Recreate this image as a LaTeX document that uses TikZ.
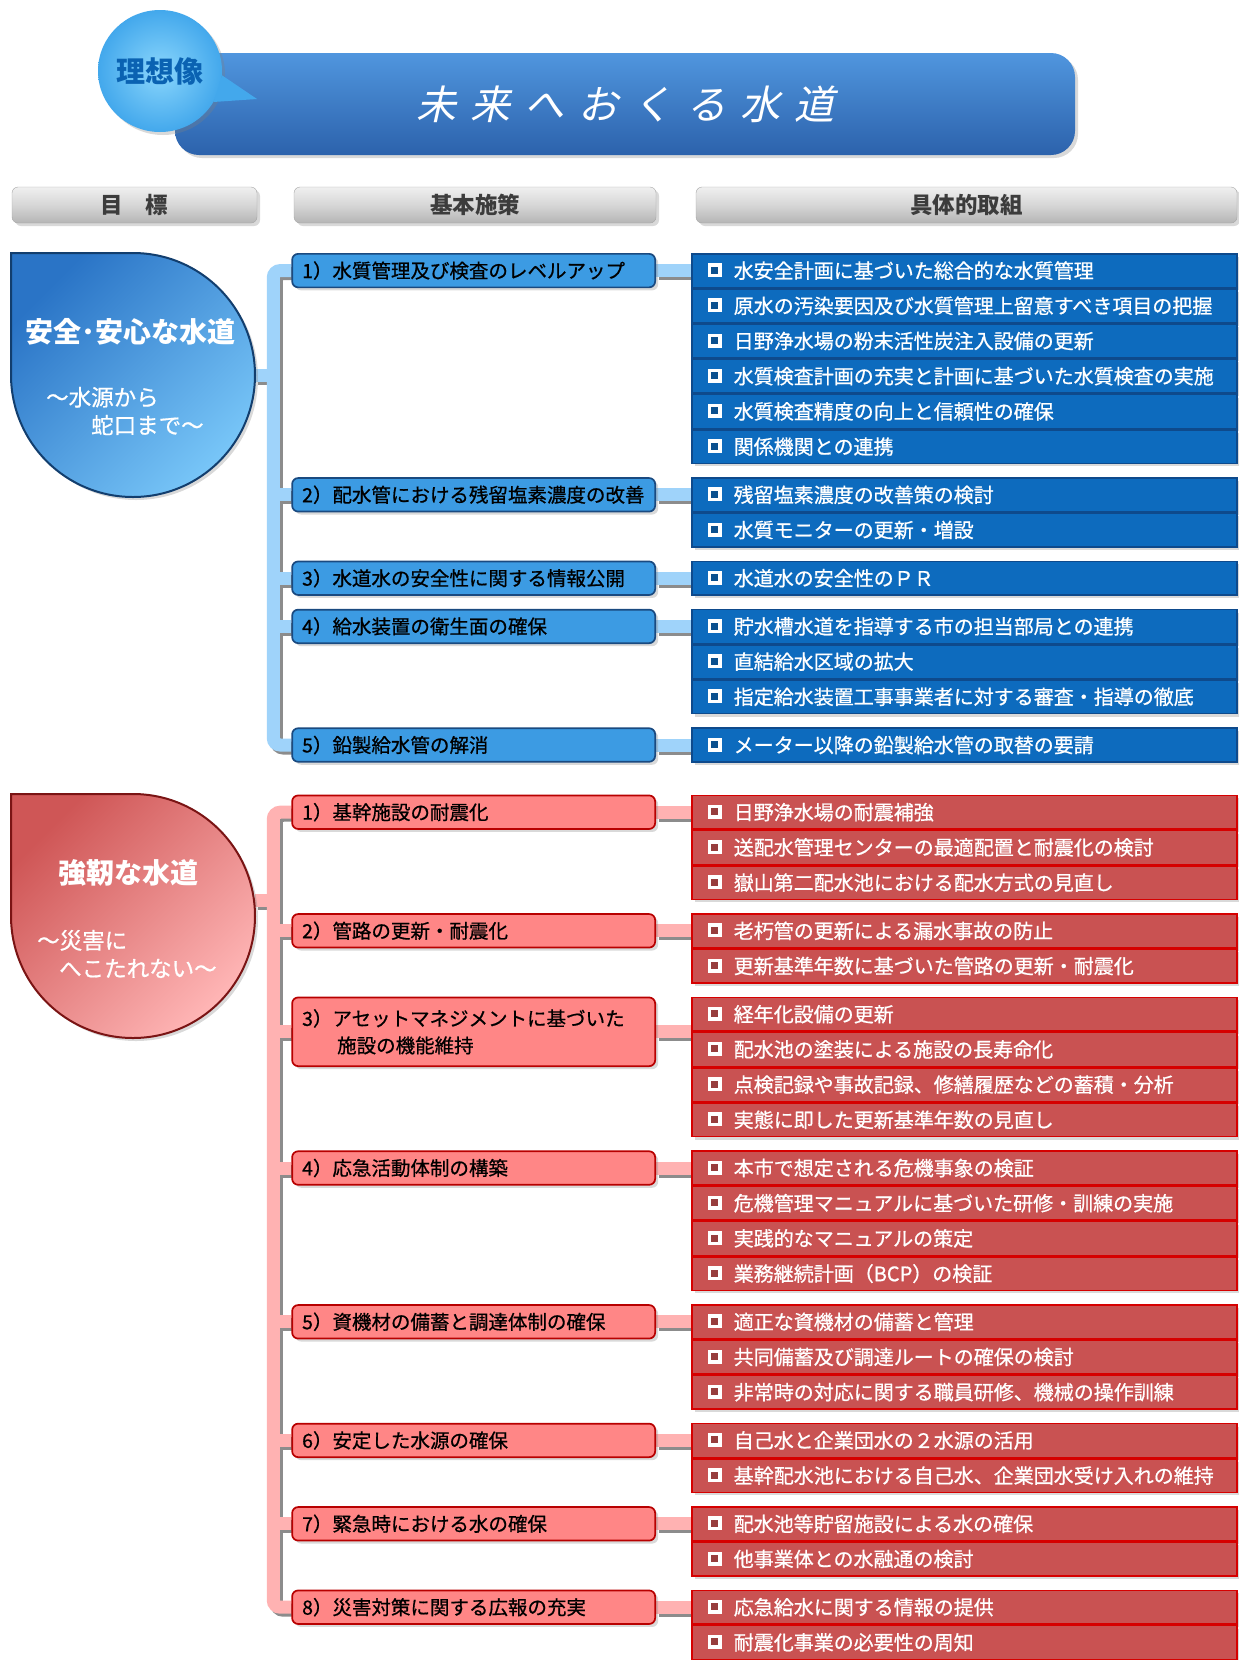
\documentclass[tikz,border=0pt]{standalone}
\usepackage{fontspec}
\setmainfont{Noto Sans CJK JP}
\newfontfamily\ttlfont[FakeSlant=0.22]{Noto Sans CJK JP}
\newfontfamily\medfont[FakeBold=0.7]{Noto Sans CJK JP}
\usetikzlibrary{shapes.geometric, positioning, calc, shadows, backgrounds}
\definecolor{bannertop}{HTML}{5096DE}
\definecolor{bannerbot}{HTML}{2C62AC}
\definecolor{bubblein}{HTML}{8AD6FC}
\definecolor{bubbleout}{HTML}{43A8EC}
\definecolor{idealtxt}{HTML}{0A62B2}
\definecolor{hdrtxt}{HTML}{3C3C3C}
\definecolor{bmfill}{HTML}{3C9BE3}
\definecolor{bmline}{HTML}{1A4A80}
\definecolor{bifill}{HTML}{0D6BBE}
\definecolor{biline}{HTML}{0E4A8C}
\definecolor{bbarc}{HTML}{9FD3FA}
\definecolor{bgoaltop}{HTML}{2A74C6}
\definecolor{bgoalbot}{HTML}{78C6F8}
\definecolor{bgoalline}{HTML}{123E6E}
\definecolor{rmfill}{HTML}{FF8686}
\definecolor{rmline}{HTML}{B80000}
\definecolor{rifill}{HTML}{C95252}
\definecolor{riline}{HTML}{D60000}
\definecolor{rbarc}{HTML}{FFB2B2}
\definecolor{rgoaltop}{HTML}{CF5656}
\definecolor{rgoalbot}{HTML}{FFB6B6}
\definecolor{rgoalline}{HTML}{7A1414}
\colorlet{chkin}{bifill}
\tikzstyle{shd} = [drop shadow={opacity=0.3, shadow xshift=3pt, shadow yshift=-3pt}]
\tikzstyle{banner} = [rectangle, rounded corners=24pt, minimum width=900pt, minimum height=102pt,
    top color=bannertop, bottom color=bannerbot, shd, text=white, font=\ttlfont\fontsize{40}{40}\selectfont]
\tikzstyle{bubble} = [ellipse, minimum width=124pt, minimum height=122pt, inner sep=0pt,
    inner color=bubblein, outer color=bubbleout, shd, text=idealtxt, font=\bfseries\fontsize{29}{29}\selectfont]
\tikzstyle{hdr} = [rectangle, rounded corners=6pt, minimum height=36pt, draw=gray!70,
    top color=gray!12, bottom color=gray!58, middle color=gray!32, shd, text=hdrtxt,
    font=\bfseries\fontsize{22.5}{22.5}\selectfont]
\tikzstyle{bmeas} = [rectangle, rounded corners=6pt, minimum width=363pt, minimum height=33.5pt,
    text width=343pt, inner xsep=10pt, inner ysep=2pt, align=left, draw=bmline, line width=1.7pt,
    fill=bmfill, shd, font=\medfont\fontsize{19.5}{27}\selectfont]
\tikzstyle{rmeas} = [bmeas, draw=rmline, fill=rmfill]
\tikzstyle{bitem} = [rectangle, minimum width=545pt, minimum height=33.7pt, text width=513pt,
    inner xsep=16pt, inner ysep=2pt, align=left, draw=biline, line width=1.5pt, fill=bifill,
    text=white, shd, font=\colorlet{chkin}{bifill!75!black}\medfont\fontsize{20}{24}\selectfont]
\tikzstyle{ritem} = [bitem, draw=riline, fill=rifill,
    font=\colorlet{chkin}{rifill!75!black}\medfont\fontsize{20}{24}\selectfont]
\tikzstyle{bbar} = [line width=13pt, draw=bbarc, rounded corners=7pt]
\tikzstyle{rbar} = [bbar, draw=rbarc]
\tikzstyle{barsh} = [line width=13pt, draw=black!45, rounded corners=7pt,
    transform canvas={shift={(3pt,-3pt)}}]
\tikzstyle{goalbox} = [circle, minimum size=244pt, inner sep=0pt, outer sep=0pt]
\tikzstyle{goaltxt} = [text=white, inner sep=0pt, font=\bfseries\fontsize{28}{28}\selectfont]
\tikzstyle{goalsub} = [text=white, inner sep=0pt, align=left, font=\medfont\fontsize{22.5}{28}\selectfont]
\newcommand{\chk}{\raisebox{1pt}{\textcolor{white}{\rule{14pt}{14pt}}}\kern-10.5pt%
    \raisebox{4.5pt}{\textcolor{chkin}{\rule{7pt}{7pt}}}\kern3.5pt\hspace{12pt}}
\begin{document}
\begin{tikzpicture}[x=1pt, y=-1pt]
\useasboundingbox (0,0) rectangle (1239,1660);

% title
\node (title) [banner] at (625,104) {未\kern14pt 来\kern14pt へ\kern14pt お\kern14pt く\kern14pt る\kern14pt 水\kern14pt 道};
\node (ideal) [bubble] at (160,71) {理想像};
\path[fill=bubbleout] (ideal.-4) -- (257,99) -- (ideal.-30) -- cycle;

% headers
\node (hgoal) [hdr, minimum width=245pt] at (134.5,205) {目　標};
\node (hmeas) [hdr, minimum width=362pt] at (475,205) {基本施策};
\node (hact) [hdr, minimum width=541pt] at (966.5,205) {具体的取組};

% blue: items
\node (bi1a) [bitem, anchor=north west] at (691,253) {\chk 水安全計画に基づいた総合的な水質管理};
\node (bi1b) [bitem, below=0pt of bi1a] {\chk 原水の汚染要因及び水質管理上留意すべき項目の把握};
\node (bi1c) [bitem, below=0pt of bi1b] {\chk 日野浄水場の粉末活性炭注入設備の更新};
\node (bi1d) [bitem, below=0pt of bi1c] {\chk 水質検査計画の充実と計画に基づいた水質検査の実施};
\node (bi1e) [bitem, below=0pt of bi1d] {\chk 水質検査精度の向上と信頼性の確保};
\node (bi1f) [bitem, below=0pt of bi1e] {\chk 関係機関との連携};
\node (bi2a) [bitem, below=13pt of bi1f] {\chk 残留塩素濃度の改善策の検討};
\node (bi2b) [bitem, below=0pt of bi2a] {\chk 水質モニターの更新・増設};
\node (bi3a) [bitem, below=13pt of bi2b] {\chk 水道水の安全性のＰＲ};
\node (bi4a) [bitem, below=13pt of bi3a] {\chk 貯水槽水道を指導する市の担当部局との連携};
\node (bi4b) [bitem, below=0pt of bi4a] {\chk 直結給水区域の拡大};
\node (bi4c) [bitem, below=0pt of bi4b] {\chk 指定給水装置工事事業者に対する審査・指導の徹底};
\node (bi5a) [bitem, below=13pt of bi4c] {\chk メーター以降の鉛製給水管の取替の要請};

% blue: measures
\node (bm1) [bmeas, left=35pt of bi1a.north west, anchor=north east] {1）水質管理及び検査のレベルアップ};
\node (bm2) [bmeas, left=35pt of bi2a.north west, anchor=north east] {2）配水管における残留塩素濃度の改善};
\node (bm3) [bmeas, left=35pt of bi3a.north west, anchor=north east] {3）水道水の安全性に関する情報公開};
\node (bm4) [bmeas, left=35pt of bi4a.north west, anchor=north east] {4）給水装置の衛生面の確保};
\node (bm5) [bmeas, left=35pt of bi5a.north west, anchor=north east] {5）鉛製給水管の解消};

% blue: goal
\node (bgoal) [goalbox] at (133,375) {};
\path[draw=bgoalline, line width=2pt, top color=bgoaltop, bottom color=bgoalbot, shading angle=45, shd]
    (bgoal.west |- bgoal.north) -- (bgoal.north) arc[start angle=-90, end angle=180, radius=122] -- cycle;
\node (bgoalt) [goaltxt] at (130,332) {安全･安心な水道};
\node (bgoals) [goalsub, anchor=west] at (46,411) {～水源から\\\hspace*{45pt}蛇口まで～};

% red: items
\node (ri1a) [ritem, below=32pt of bi5a] {\chk 日野浄水場の耐震補強};
\node (ri1b) [ritem, below=0pt of ri1a] {\chk 送配水管理センターの最適配置と耐震化の検討};
\node (ri1c) [ritem, below=0pt of ri1b] {\chk 嶽山第二配水池における配水方式の見直し};
\node (ri2a) [ritem, below=13pt of ri1c] {\chk 老朽管の更新による漏水事故の防止};
\node (ri2b) [ritem, below=0pt of ri2a] {\chk 更新基準年数に基づいた管路の更新・耐震化};
\node (ri3a) [ritem, below=13pt of ri2b] {\chk 経年化設備の更新};
\node (ri3b) [ritem, below=0pt of ri3a] {\chk 配水池の塗装による施設の長寿命化};
\node (ri3c) [ritem, below=0pt of ri3b] {\chk 点検記録や事故記録、修繕履歴などの蓄積・分析};
\node (ri3d) [ritem, below=0pt of ri3c] {\chk 実態に即した更新基準年数の見直し};
\node (ri4a) [ritem, below=13pt of ri3d] {\chk 本市で想定される危機事象の検証};
\node (ri4b) [ritem, below=0pt of ri4a] {\chk 危機管理マニュアルに基づいた研修・訓練の実施};
\node (ri4c) [ritem, below=0pt of ri4b] {\chk 実践的なマニュアルの策定};
\node (ri4d) [ritem, below=0pt of ri4c] {\chk 業務継続計画（BCP）の検証};
\node (ri5a) [ritem, below=13pt of ri4d] {\chk 適正な資機材の備蓄と管理};
\node (ri5b) [ritem, below=0pt of ri5a] {\chk 共同備蓄及び調達ルートの確保の検討};
\node (ri5c) [ritem, below=0pt of ri5b] {\chk 非常時の対応に関する職員研修、機械の操作訓練};
\node (ri6a) [ritem, below=13pt of ri5c] {\chk 自己水と企業団水の２水源の活用};
\node (ri6b) [ritem, below=0pt of ri6a] {\chk 基幹配水池における自己水、企業団水受け入れの維持};
\node (ri7a) [ritem, below=13pt of ri6b] {\chk 配水池等貯留施設による水の確保};
\node (ri7b) [ritem, below=0pt of ri7a] {\chk 他事業体との水融通の検討};
\node (ri8a) [ritem, below=13pt of ri7b] {\chk 応急給水に関する情報の提供};
\node (ri8b) [ritem, below=0pt of ri8a] {\chk 耐震化事業の必要性の周知};

% red: measures
\node (rm1) [rmeas, left=35pt of ri1a.north west, anchor=north east] {1）基幹施設の耐震化};
\node (rm2) [rmeas, left=35pt of ri2a.north west, anchor=north east] {2）管路の更新・耐震化};
\node (rm3) [rmeas, left=35pt of ri3a.north west, anchor=north east, minimum height=68.7pt] {3）アセットマネジメントに基づいた\\\hspace*{35pt}施設の機能維持};
\node (rm4) [rmeas, left=35pt of ri4a.north west, anchor=north east] {4）応急活動体制の構築};
\node (rm5) [rmeas, left=35pt of ri5a.north west, anchor=north east] {5）資機材の備蓄と調達体制の確保};
\node (rm6) [rmeas, left=35pt of ri6a.north west, anchor=north east] {6）安定した水源の確保};
\node (rm7) [rmeas, left=35pt of ri7a.north west, anchor=north east] {7）緊急時における水の確保};
\node (rm8) [rmeas, left=35pt of ri8a.north west, anchor=north east] {8）災害対策に関する広報の充実};

% red: goal
\node (rgoal) [goalbox] at (133,916) {};
\path[draw=rgoalline, line width=2pt, top color=rgoaltop, bottom color=rgoalbot, shading angle=45, shd]
    (rgoal.west |- rgoal.north) -- (rgoal.north) arc[start angle=-90, end angle=180, radius=122] -- cycle;
\node (rgoalt) [goaltxt] at (128,873) {強靭な水道};
\node (rgoals) [goalsub, anchor=west] at (37,954) {～災害に\\\hspace*{22pt}へこたれない～};

% connector bars
\coordinate (bx) at ($(bm1.west)+(-18,0)$);
\coordinate (rx) at ($(rm1.west)+(-18,0)$);
\begin{scope}[on background layer]
\foreach \s in {barsh, bbar} {
  \draw[\s] (bm1.west) -- (bx) |- (bm5.west);
  \draw[\s] (bgoal.east) -- (bgoal.east -| bx);
  \draw[\s] (bm2.west) -- (bm2.west -| bx);
  \draw[\s] (bm3.west) -- (bm3.west -| bx);
  \draw[\s] (bm4.west) -- (bm4.west -| bx);
  \draw[\s] (bm1.east) -- (bm1.east -| bi1a.west);
  \draw[\s] (bm2.east) -- (bm2.east -| bi2a.west);
  \draw[\s] (bm3.east) -- (bm3.east -| bi3a.west);
  \draw[\s] (bm4.east) -- (bm4.east -| bi4a.west);
  \draw[\s] (bm5.east) -- (bm5.east -| bi5a.west);
}
\foreach \s in {barsh, rbar} {
  \draw[\s] (rm1.west) -- (rx) |- (rm8.west);
  \draw[\s] ([yshift=16pt]rgoal.east) -- ([yshift=16pt]rgoal.east -| rx);
  \draw[\s] (rm2.west) -- (rm2.west -| rx);
  \draw[\s] (rm3.west) -- (rm3.west -| rx);
  \draw[\s] (rm4.west) -- (rm4.west -| rx);
  \draw[\s] (rm5.west) -- (rm5.west -| rx);
  \draw[\s] (rm6.west) -- (rm6.west -| rx);
  \draw[\s] (rm7.west) -- (rm7.west -| rx);
  \draw[\s] (rm1.east) -- (rm1.east -| ri1a.west);
  \draw[\s] (rm2.east) -- (rm2.east -| ri2a.west);
  \draw[\s] (rm3.east) -- (rm3.east -| ri3a.west);
  \draw[\s] (rm4.east) -- (rm4.east -| ri4a.west);
  \draw[\s] (rm5.east) -- (rm5.east -| ri5a.west);
  \draw[\s] (rm6.east) -- (rm6.east -| ri6a.west);
  \draw[\s] (rm7.east) -- (rm7.east -| ri7a.west);
  \draw[\s] (rm8.east) -- (rm8.east -| ri8a.west);
}
\end{scope}
\end{tikzpicture}
\end{document}
